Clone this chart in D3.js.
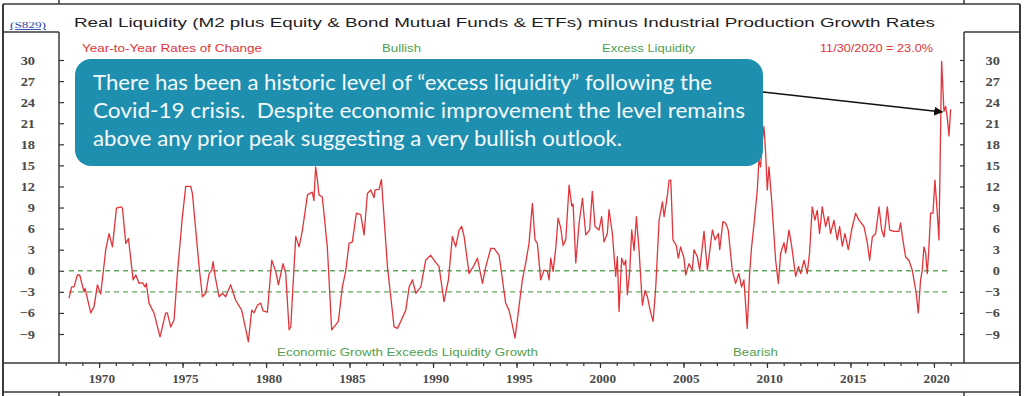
<!DOCTYPE html>
<head>
  <meta charset="utf-8">
  <script src="https://d3js.org/d3.v7.min.js"></script>
  <style>
    body { margin:0; background:#fff; }
    svg { display:block; }
    .frame line { stroke:#3a3a3a; }
    .tick line { stroke:#333; stroke-width:1.2; }
  </style>
</head>

<body>
  <svg width="1024" height="396"></svg>
  <script>
    // readings: decimal year / yoy rate (%)
    var years = [
      1968.20,1968.36,1968.50,1968.70,1968.84,1969.10,1969.16,1969.50,1969.70,1969.90,
      1970.10,1970.40,1970.60,1970.80,1971.04,1971.30,1971.40,1971.60,1971.76,1972.04,
      1972.20,1972.40,1972.60,1972.75,1972.83,1972.99,1973.29,1973.65,1973.99,1974.09,
      1974.29,1974.49,1974.69,1974.99,1975.19,1975.49,1975.59,1975.99,1976.19,1976.39,
      1976.59,1976.75,1976.83,1976.95,1977.19,1977.39,1977.58,1977.88,1978.18,1978.54,
      1978.94,1979.14,1979.28,1979.48,1979.68,1979.82,1980.08,1980.34,1980.58,1980.74,
      1981.02,1981.18,1981.38,1981.48,1981.78,1981.98,1982.18,1982.48,1982.77,1982.87,
      1982.97,1983.07,1983.17,1983.37,1983.67,1983.93,1984.17,1984.33,1984.57,1984.77,
      1984.97,1985.17,1985.41,1985.67,1985.87,1986.07,1986.27,1986.47,1986.53,1986.77,
      1986.91,1987.27,1987.67,1987.87,1988.07,1988.37,1988.57,1988.77,1988.97,1989.27,
      1989.56,1989.86,1990.16,1990.36,1990.66,1990.92,1991.16,1991.36,1991.56,1991.72,
      1991.86,1992.16,1992.46,1992.66,1992.76,1992.96,1993.16,1993.46,1993.66,1993.96,
      1994.16,1994.35,1994.55,1994.75,1994.91,1995.15,1995.35,1995.55,1995.75,1995.95,
      1996.11,1996.25,1996.45,1996.65,1996.85,1996.95,1997.05,1997.19,1997.35,1997.49,
      1997.65,1997.79,1997.95,1998.15,1998.31,1998.39,1998.55,1998.75,1998.95,1999.15,
      1999.38,1999.54,1999.70,1999.94,2000.10,2000.24,2000.44,2000.54,2000.74,2000.94,
      2001.04,2001.14,2001.30,2001.44,2001.54,2001.64,2001.78,2001.90,2002.04,2002.18,
      2002.34,2002.54,2002.70,2002.84,2003.04,2003.18,2003.34,2003.54,2003.74,2003.84,
      2004.04,2004.14,2004.24,2004.37,2004.57,2004.69,2004.83,2005.03,2005.13,2005.33,
      2005.53,2005.63,2005.83,2005.97,2006.23,2006.43,2006.73,2006.89,2007.09,2007.17,
      2007.36,2007.52,2007.68,2007.92,2008.12,2008.32,2008.48,2008.62,2008.82,2008.96,
      2009.08,2009.22,2009.42,2009.52,2009.62,2009.72,2009.82,2009.92,2010.02,2010.12,
      2010.28,2010.52,2010.68,2010.82,2011.02,2011.12,2011.32,2011.48,2011.72,2011.88,
      2012.02,2012.22,2012.41,2012.55,2012.71,2012.87,2013.01,2013.15,2013.31,2013.51,
      2013.67,2013.81,2014.01,2014.21,2014.35,2014.51,2014.67,2014.87,2015.07,2015.31,
      2015.51,2015.81,2016.01,2016.15,2016.31,2016.51,2016.71,2016.87,2017.01,2017.21,
      2017.35,2017.60,2017.90,2018.00,2018.14,2018.30,2018.50,2018.70,2018.94,2019.06,
      2019.20,2019.30,2019.40,2019.50,2019.60,2019.70,2019.80,2019.94,2020.06,2020.20,
      2020.30,2020.40,2020.46,2020.60,2020.70,2020.80,2020.90,2021.00
    ];
    var rates = [
      -3.9,-2.3,-2.3,-0.6,-0.6,-3.0,-2.5,-6.0,-5.1,-2.0,
      -3.3,3.0,5.3,3.4,8.9,9.1,8.9,3.9,4.6,-1.3,
      -0.6,-1.8,-1.7,-2.3,-1.8,-4.6,-6.0,-9.4,-6.0,-6.0,
      -8.0,-7.0,-0.4,7.7,12.0,12.0,11.0,0.6,-3.7,-3.2,
      -0.4,0.1,1.3,-0.8,-3.7,-3.2,-3.7,-2.0,-4.2,-5.6,
      -10.1,-5.6,-6.0,-4.9,-4.6,-5.7,-5.9,1.5,-0.1,-2.0,
      1.0,-0.4,-8.4,-8.0,4.9,3.4,5.8,10.8,11.2,10.0,
      14.8,13.0,10.8,10.5,3.4,-8.4,-7.7,-7.2,-2.3,-0.1,
      3.9,4.1,8.2,8.0,5.1,11.0,11.5,10.4,11.5,11.6,
      13.0,0.6,-8.0,-8.2,-7.2,-5.6,-2.3,-1.3,-3.2,-2.3,
      1.5,2.2,1.2,0.6,-4.4,-1.3,4.9,3.4,5.8,6.3,
      4.9,-0.4,0.8,1.8,0.6,-1.8,0.6,3.2,3.2,2.2,
      -1.3,-4.6,-5.6,-7.7,-9.6,-5.1,-1.3,1.1,3.9,9.6,
      4.4,3.9,-1.3,0.1,-0.1,-1.3,1.8,-0.1,3.2,7.5,
      6.1,3.6,4.4,12.2,9.2,9.5,1.1,6.8,10.3,5.1,
      5.8,11.3,6.3,5.8,7.7,4.1,5.3,8.7,5.3,-0.8,
      2.0,-5.8,1.8,0.8,1.5,-3.4,-0.1,5.8,2.9,7.7,
      2.9,-4.9,-2.8,-3.7,-6.0,-7.2,-2.3,7.2,9.8,7.7,
      10.8,12.9,12.9,4.4,3.6,1.8,3.4,1.8,-0.6,1.0,
      0.1,3.0,2.0,0.1,5.6,0.1,5.8,4.4,5.3,3.0,
      7.0,6.8,5.8,0.1,-1.8,-0.4,-2.3,-1.3,-8.2,-0.4,
      3.4,6.5,11.5,15.8,14.8,18.6,20.5,16.8,11.5,14.8,
      10.0,1.5,-1.8,2.5,4.0,2.5,5.8,3.5,-0.8,0.6,
      -0.4,1.5,-0.4,2.5,9.1,7.2,8.6,5.3,9.1,6.3,
      7.7,5.3,7.2,4.4,6.3,3.5,5.3,3.0,5.8,8.2,
      7.2,6.3,4.0,1.5,4.8,5.3,9.1,5.8,4.8,9.1,
      5.8,5.6,5.6,6.8,4.4,2.0,1.5,0.1,-3.2,-6.0,
      -1.3,0.1,3.4,2.5,-0.4,3.4,8.2,8.2,12.9,8.2,
      4.4,20.3,29.8,22.7,23.4,21.8,19.2,23.0
    ];

    var yTicks = d3.range(-9, 31, 3);
    var majorYears = d3.range(1970, 2021, 5);
    var minorYears = d3.range(1968, 2022);
    var refLines = [0, -3];
    var arrowTo = [2020.5, 22.6]; // 11/30/2020 = 23.0%

    var title = 'Real Liquidity (M2 plus Equity & Bond Mutual Funds & ETFs) minus Industrial Production Growth Rates';
    var calloutLines = [
      'There has been a historic level of \u201cexcess liquidity\u201d following the',
      'Covid-19 crisis.  Despite economic improvement the level remains',
      'above any prior peak suggesting a very bullish outlook.'
    ];

    var sans = '"Liberation Sans", Arial, sans-serif';
    var serif = '"Liberation Serif", "Times New Roman", serif';
    var red = '#e3343a', green = '#4f9f4f';

    var svg = d3.select('svg');

    var x = d3.scaleLinear().domain([1967.6, 2021.8]).range([59, 964]);
    var y = d3.scaleLinear().domain([-9, 30]).range([334, 60]);

    // frame / table rules
    var frame = svg.append('g').attr('class', 'frame');
    [[3,4,1020,4,1.5],[3,4,3,396,2],[1020,4,1020,396,2],
     [59,0,59,4,1.5],[59,32,59,363,1.5],[59,392,59,396,1.5],
     [964,0,964,4,1.5],[964,32,964,363,1.5],[964,392,964,396,1.5],
     [3,32,59,32,1.5],[964,32,1020,32,1.5],
     [3,363,1020,363,1.5],[3,392,1020,392,1.5]].forEach(s => {
      frame.append('line').attr('x1', s[0]).attr('y1', s[1]).attr('x2', s[2]).attr('y2', s[3])
        .attr('stroke-width', s[4]);
    });

    // stretch tick text a bit, the source image is widened
    function widen(sel, k) {
      sel.each(function() {
        var t = d3.select(this);
        t.attr('x', (+t.attr('x') || 0) / k).attr('transform', 'scale(' + k + ',1)');
      });
    }

    // y axes
    var gl = svg.append('g').attr('transform', 'translate(59,0)')
      .call(d3.axisLeft(y).tickValues(yTicks).tickSize(-5).tickPadding(24));
    var gr = svg.append('g').attr('transform', 'translate(964,0)')
      .call(d3.axisRight(y).tickValues(yTicks).tickSize(-4).tickPadding(36));
    gr.selectAll('text').attr('text-anchor', 'end');
    [gl, gr].forEach(g => {
      g.select('.domain').remove();
      g.selectAll('text').attr('font-size', 12.5).attr('font-family', serif)
        .attr('font-weight', 'bold').attr('fill', '#4a4a4a');
      widen(g.selectAll('text'), 1.15);
    });

    // x axis, minor + major ticks
    var gm = svg.append('g').attr('transform', 'translate(0,363)')
      .call(d3.axisBottom(x).tickValues(minorYears).tickSize(3).tickFormat(''));
    var gx = svg.append('g').attr('transform', 'translate(0,363)')
      .call(d3.axisBottom(x).tickValues(majorYears).tickSize(5).tickPadding(7).tickFormat(d3.format('d')));
    gm.select('.domain').remove();
    gx.select('.domain').remove();
    gx.selectAll('text').attr('font-size', 11.5).attr('dx', 2).attr('font-family', serif)
      .attr('font-weight', 'bold').attr('fill', '#4a4a4a');
    widen(gx.selectAll('text'), 1.15);

    // reference lines at 0 and -3
    svg.selectAll('.ref').data(refLines).enter().append('line')
      .attr('x1', x(years[0])).attr('x2', x(years[years.length - 1]))
      .attr('y1', d => y(d)).attr('y2', d => y(d))
      .attr('stroke', '#63a863').attr('stroke-width', 1.4).attr('stroke-dasharray', '5,4');

    // the series
    var line = d3.line().x((d, i) => x(years[i])).y(d => y(d));
    svg.append('path')
      .attr('d', line(rates))
      .attr('fill', 'none').attr('stroke', red).attr('stroke-width', 1.3).attr('stroke-linejoin', 'round');

    // texts
    function label(txt, x0, y0, w, size, color, extra) {
      var t = svg.append('text').attr('x', x0).attr('y', y0)
        .attr('font-family', sans).attr('font-size', size).attr('fill', color)
        .attr('textLength', w).attr('lengthAdjust', 'spacingAndGlyphs')
        .text(txt);
      if (extra) extra(t);
      return t;
    }
    label(title, 74, 27, 861, 13.5, '#1e1e1e');
    label('(S829)', 10, 28, 36, 9, '#2b3fa8', t => t.attr('font-family', serif).attr('text-decoration', 'underline'));
    label('Year-to-Year Rates of Change', 82, 52, 180, 11, red);
    label('Bullish', 382, 52, 39, 11, green);
    label('Excess Liquidity', 602, 52, 93, 11, green);
    label('11/30/2020 = 23.0%', 820, 52, 113, 11, red);
    label('Economic Growth Exceeds Liquidity Growth', 277, 356, 261, 11, green);
    label('Bearish', 733, 356, 45, 11, green);

    // callout box + arrow
    svg.append('defs').append('marker')
      .attr('id', 'head').attr('viewBox', '0 0 10 10').attr('refX', 9).attr('refY', 5)
      .attr('markerWidth', 6).attr('markerHeight', 6).attr('orient', 'auto')
      .append('path').attr('d', 'M0,0L10,5L0,10z').attr('fill', '#111');
    svg.append('line')
      .attr('x1', 763).attr('y1', 92)
      .attr('x2', x(arrowTo[0])).attr('y2', y(arrowTo[1]))
      .attr('stroke', '#111').attr('stroke-width', 1.5).attr('marker-end', 'url(#head)');

    svg.append('rect').attr('x', 75).attr('y', 59).attr('width', 688).attr('height', 107)
      .attr('rx', 16).attr('fill', '#1f8fb0');

    var widths = [619, 652, 529];
    calloutLines.forEach((s, i) => {
      label(s, 93, 90 + i * 28, widths[i], 21, '#f4fafc',
        t => t.attr('font-family', 'Lato, "Open Sans", sans-serif').style('white-space', 'pre'));
    });
  </script>
</body>
